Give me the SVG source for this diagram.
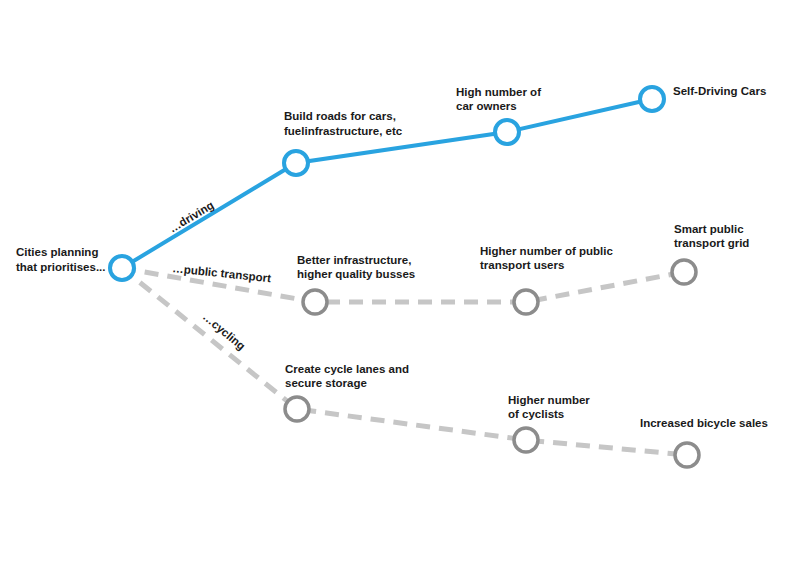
<svg xmlns="http://www.w3.org/2000/svg" width="800" height="566" viewBox="0 0 800 566">
<style>
text{font-family:"Liberation Sans",Arial,sans-serif;font-size:11.5px;font-weight:bold;fill:#1a1a1a}
.b{fill:#fff;stroke:#29a3e0;stroke-width:4}
.g{fill:#fff;stroke:#8c8c8c;stroke-width:3.5}
.bl{stroke:#29a3e0;stroke-width:4;fill:none}
.gl{stroke:#c6c6c6;stroke-width:5;stroke-dasharray:14 9;fill:none}
</style>
<rect width="800" height="566" fill="#fff"/>
<g id="connectors">
<polyline class="bl" points="122,268 296,163 507,132 652,99"/>
<polyline class="gl" points="122,268 315,302 526,302 684,272"/>
<polyline class="gl" points="122,268 297,409 526,440 687,455"/>
<text transform="translate(172,233) rotate(-31)">…driving</text>
<text transform="translate(172,272) rotate(6)">…public transport</text>
<text transform="translate(202,318) rotate(40)">…cycling</text>
</g>
<g id="origin"><circle class="b" cx="122" cy="268" r="12"/><text x="16" y="256">Cities planning</text><text x="16" y="271">that prioritises...</text></g>
<g id="d1"><circle class="b" cx="296" cy="163" r="12"/><text x="284" y="120">Build roads for cars,</text><text x="284" y="135">fuelinfrastructure, etc</text></g>
<g id="d2"><circle class="b" cx="507" cy="132" r="12"/><text x="456" y="96">High number of</text><text x="456" y="110">car owners</text></g>
<g id="d3"><circle class="b" cx="652" cy="99" r="12"/><text x="673" y="95">Self-Driving Cars</text></g>
<g id="p1"><circle class="g" cx="315" cy="302" r="12"/><text x="297" y="264">Better infrastructure,</text><text x="297" y="278">higher quality busses</text></g>
<g id="p2"><circle class="g" cx="526" cy="302" r="12"/><text x="480" y="255">Higher number of public</text><text x="480" y="269">transport users</text></g>
<g id="p3"><circle class="g" cx="684" cy="272" r="12"/><text x="674" y="233">Smart public</text><text x="674" y="247">transport grid</text></g>
<g id="c1"><circle class="g" cx="297" cy="409" r="12"/><text x="285" y="373">Create cycle lanes and</text><text x="285" y="387">secure storage</text></g>
<g id="c2"><circle class="g" cx="526" cy="440" r="12"/><text x="508" y="404">Higher number</text><text x="508" y="418">of cyclists</text></g>
<g id="c3"><circle class="g" cx="687" cy="455" r="12"/><text x="640" y="427">Increased bicycle sales</text></g>
</svg>
